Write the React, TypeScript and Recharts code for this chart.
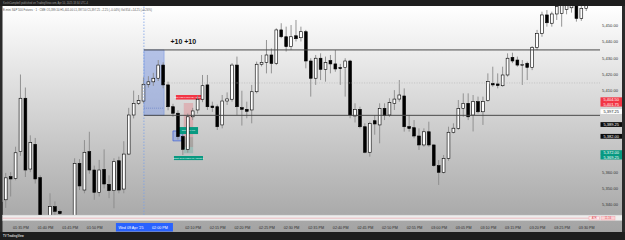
import React from 'react';
import {
  ComposedChart,
  Bar,
  XAxis,
  YAxis,
  ReferenceLine,
  ReferenceArea,
  ReferenceDot,
} from 'recharts';

// 1-minute candles, first one at 01:31 PM (minutes after midnight)
const firstMinute = 811;

const opens = [
  5326, 5343, 5357.2, 5356.2, 5372.6, 5405.4, 5361.9, 5377.1, 5356.6, null,
  5332, 5338.8, 5335.9, null, null, 5330, 5365.4, 5349, 5372.6, 5361.3,
  5347.6, 5361.7, 5352.5, 5348.6, 5367, 5349.6, 5371.1, 5395.1, 5402.3, 5403.7,
  5414, 5415.5, 5417.7, 5425.8, 5413.6, 5400.2, 5396.2, 5381.9, 5374, 5394,
  5398.2, 5404.8, 5413.6, 5400.6, 5400.2, 5389, 5403.7, 5404.8, 5425.8, 5399.6,
  5398.6, 5398.2, 5409.4, 5426.3, 5427.5, 5432, 5426.9, 5447.4, 5443.2, 5437.1,
  5443.8, 5442.6, 5446.3, 5428.3, 5417.7, 5430, 5423.2, 5428.5, 5426.5, 5424.2,
  5424.2, 5428.3, 5394.5, 5398.6, 5387.9, 5372.2, 5391.6, 5389, 5399.2, 5395.1,
  5402.3, 5404.9, 5406.8, 5388, 5387.3, 5382.2, 5376.7, 5384.8, 5376.7, 5364,
  5359.9, 5368.5, 5384.5, 5386.9, 5399.2, 5402.3, 5395.1, 5403.3, 5397.1, 5403.9,
  5414.6, 5414.2, 5413.1, 5419.7, 5430.5, 5428.9, 5425.8, 5426.9, 5424.4, 5436.7,
  5445.3, 5456.6, 5451.5, 5457.2, 5457.6, 5460, 5461, 5462.7, 5454.5, 5460.7,
];
const highs = [
  5343, 5359.5, 5360, 5375.6, 5420, 5412, 5382.6, 5381, 5358, null,
  5347, 5342, 5337, null, null, 5368.5, 5368, 5379.7, 5384.8, 5364,
  5367.5, 5374, 5358, 5368.5, 5369.5, 5379, 5399.5, 5410.1, 5407.4, 5418.2,
  5419, 5421, 5428.9, 5427.5, 5415.6, 5402, 5398, 5383, 5396, 5399.5,
  5407, 5419.7, 5419.7, 5403.3, 5401.5, 5407.4, 5409, 5427, 5431, 5410,
  5403.3, 5413.6, 5427.9, 5432, 5441.2, 5436, 5448.4, 5451.5, 5449.4, 5450.4,
  5453.5, 5449.4, 5447.4, 5430, 5432, 5433, 5431, 5432, 5435, 5426.5,
  5430, 5429, 5402.3, 5400.2, 5390, 5391, 5395.1, 5402.3, 5402.3, 5405.4,
  5410.4, 5416.6, 5411.5, 5395.1, 5392, 5386.9, 5386.9, 5391, 5377, 5367.4,
  5370.5, 5387.9, 5390, 5404.3, 5408.4, 5408.4, 5407.4, 5406.4, 5406.4, 5420.7,
  5424.8, 5420.7, 5424.8, 5433, 5433.4, 5431, 5428.9, 5427.9, 5437.5, 5447.4,
  5458.6, 5459.6, 5458.6, 5466, 5466, 5467, 5467, 5466, 5463, 5466,
];
const lows = [
  5324, 5338, 5345, 5355, 5370, 5357, 5360, 5353, 5328, null,
  5330, 5333, 5333, null, null, 5328, 5349, 5347, 5359, 5343,
  5345, 5350, 5344, 5337.8, 5347, 5347, 5370.5, 5393, 5401.3, 5402.3,
  5412, 5413, 5416, 5411.5, 5398, 5394, 5380, 5370.5, 5372, 5392,
  5396, 5403, 5398.2, 5397, 5385.9, 5386.9, 5401.3, 5403.3, 5395.1, 5388.6,
  5393.1, 5390, 5408.4, 5425, 5420.7, 5420.7, 5425.8, 5442.3, 5434.1, 5435.1,
  5440.3, 5440.3, 5423.8, 5406.4, 5413.6, 5416.6, 5415.6, 5420.7, 5421.7, 5413.6,
  5406.4, 5393.1, 5390.5, 5386.9, 5371.6, 5369.5, 5383, 5377.7, 5392, 5394,
  5398.2, 5403.3, 5384.9, 5384.9, 5380.8, 5373.6, 5375.6, 5375.6, 5363.3, 5352.1,
  5359.2, 5367, 5383.8, 5386, 5394, 5392, 5385, 5396.1, 5389, 5403.3,
  5412.5, 5411.5, 5412.5, 5418.7, 5427, 5424.8, 5413.6, 5416.6, 5422.7, 5435,
  5443.2, 5449.4, 5449.4, 5453.5, 5449.4, 5457, 5458, 5452.5, 5453, 5459,
];
const closes = [
  5341.5, 5356.5, 5355.8, 5371.9, 5405.4, 5361.3, 5378.1, 5355.8, 5330, null,
  5338.8, 5335.9, 5334.5, null, null, 5365.4, 5351.5, 5372.2, 5361.3, 5347.6,
  5361.3, 5352.7, 5348.6, 5366.4, 5349, 5371.1, 5395.1, 5402.3, 5403.9, 5414,
  5415.5, 5417.7, 5425.8, 5413.6, 5400.2, 5396.2, 5381.8, 5374, 5394, 5397.6,
  5404.8, 5413.1, 5400.2, 5399.6, 5387.9, 5403.7, 5405, 5425.8, 5400.2, 5398.6,
  5397.4, 5409.4, 5426.3, 5427.5, 5432, 5426.8, 5447.4, 5443.2, 5437.1, 5443.2,
  5442, 5446.3, 5428.3, 5417.7, 5430, 5423.2, 5427.3, 5426.5, 5423.4, 5423.8,
  5428.3, 5395.1, 5398.6, 5387.9, 5372.2, 5390, 5389.6, 5399.2, 5394.7, 5402.7,
  5404.9, 5407.4, 5387.9, 5386.8, 5382.2, 5376.7, 5384.8, 5376.7, 5364, 5359.9,
  5368.5, 5384.5, 5387, 5399.2, 5402.3, 5394, 5403.3, 5397.1, 5403.3, 5415.6,
  5413.6, 5413.2, 5419.7, 5430, 5428.3, 5425.8, 5426.2, 5424.4, 5436.7, 5445.3,
  5456.6, 5451.8, 5457.2, 5461.7, 5462.7, 5464, 5464, 5454.5, 5460.7, 5462.7,
];

const timeTicks = [
  815, 820, 825, 830, 840, 850, 855, 860, 865, 870, 875, 880, 885, 890, 895,
  900, 905, 910, 915, 920, 925, 930,
];
const priceTicks = [5340, 5350, 5360, 5410, 5420, 5430, 5440, 5450];
const timeDomain = [811.15, 932.7];
const priceDomain = [5333.65, 5462.1];

// drawings on the chart
const crosshairMinute = 840;
const levelUpper = 5435.1;
const levelLower = 5394.9;
const zoneEndMinute = 844.1;
const zoneMidPrice = 5399.3;
const dottedLevel = 5414.8;

const tagPrices = [5404.5, 5401.75, 5397.25, 5389.25, 5382, 5372, 5369.25];
const tagKinds = ['sell', 'sell', 'last', 'level', 'level', 'buy', 'buy'];
const tagStyles: Record<string, { bg: string; fg: string }> = {
  sell: { bg: '#f23645', fg: '#ffffff' },
  last: { bg: '#ffffff', fg: '#131722' },
  level: { bg: '#0c0c0c', fg: '#ffffff' },
  buy: { bg: '#089981', fg: '#ffffff' },
};

const candles = opens
  .map((open, i) => ({
    t: firstMinute + i,
    open,
    high: highs[i],
    low: lows[i],
    close: closes[i],
  }))
  .filter(d => d.open != null);

const pad = (n: number) => (n < 10 ? `0${n}` : `${n}`);
const formatTime = (m: number) => {
  const h = Math.floor(m / 60);
  return `${pad(h > 12 ? h - 12 : h)}:${pad(m % 60)} PM`;
};
const formatPrice = (p: number) =>
  p.toLocaleString('en-US', { minimumFractionDigits: 2, maximumFractionDigits: 2 });

const FONT = '"Liberation Sans", Arial, sans-serif';

const Candle = (props: any) => {
  const { x, y, width, height, payload } = props;
  if (!payload || payload.open == null) return null;
  const { open, close, high, low } = payload;
  const top = Math.min(y, y + height);
  const span = Math.abs(height);
  const perUnit = span / (high - low || 1);
  const cx = x + width / 2;
  const bodyTop = top + (high - Math.max(open, close)) * perUnit;
  const bodyH = Math.max(0.9, Math.abs(open - close) * perUnit);
  const up = close >= open;
  return (
    <g>
      <line x1={cx} x2={cx} y1={top} y2={top + span} stroke="#8a8a8a" strokeWidth={0.9} />
      <rect
        x={cx - 1.4}
        y={bodyTop}
        width={2.8}
        height={bodyH}
        fill={up ? '#ffffff' : '#000000'}
        stroke="#000000"
        strokeWidth={0.6}
      />
    </g>
  );
};

const TimeTick = (props: any) => {
  const { x, y, payload } = props;
  const v = payload.value;
  if (v === crosshairMinute) {
    return (
      <g>
        <rect x={x - 28} y={y + 8} width={57} height={8.5} fill="#2962ff" />
        <text x={x - 13} y={y + 13.6} fontSize={3.7} fill="#ffffff" textAnchor="middle">
          Wed 09 Apr '25
        </text>
        <text x={x + 16} y={y + 13.6} fontSize={3.7} fill="#ffffff" textAnchor="middle">
          {formatTime(v)}
        </text>
      </g>
    );
  }
  return (
    <text x={x} y={y + 13.6} fontSize={3.7} fill="#2a2a2a" textAnchor="middle">
      {formatTime(v)}
    </text>
  );
};

const PriceTag = (props: any) => {
  const vb = props.viewBox || {};
  const x = (vb.x ?? 0) + (vb.width ?? 0);
  const y = vb.y ?? 0;
  return (
    <g>
      <rect x={x + 0.5} y={y - 2.4} width={21.5} height={4.8} fill={props.bg} />
      <text x={x + 11.2} y={y + 1.5} fontSize={4} fill={props.fg} textAnchor="middle">
        {props.text}
      </text>
    </g>
  );
};

const BoxText = (props: any) => {
  const vb = props.viewBox || {};
  const cx = (vb.x ?? 0) + (vb.width ?? 0) / 2;
  const cy = (vb.y ?? 0) + (vb.height ?? 0) / 2;
  return (
    <text
      x={cx}
      y={cy + (props.size ?? 2.4) * 0.35}
      fontSize={props.size ?? 2.4}
      fontWeight={props.bold ? 700 : 400}
      fill={props.color ?? '#ffffff'}
      textAnchor="middle"
    >
      {props.text}
    </text>
  );
};

export default function App() {
  return (
    <div
      style={{
        position: 'absolute',
        left: 0,
        top: 0,
        width: 625,
        height: 240,
        overflow: 'hidden',
        fontFamily: FONT,
        background: 'linear-gradient(to bottom, #ffffff 6px, #a3a3a3 232px)',
      }}
    >
      <ComposedChart
        width={625}
        height={240}
        data={candles}
        margin={{ top: 6, right: 0, bottom: 8, left: 2 }}
        style={{ fontFamily: FONT }}
      >
        <XAxis
          type="number"
          dataKey="t"
          domain={timeDomain}
          allowDataOverflow
          ticks={timeTicks}
          interval={0}
          height={17}
          axisLine={false}
          tickLine={false}
          tickSize={0}
          tickMargin={0}
          tick={<TimeTick />}
        />
        <YAxis
          type="number"
          orientation="right"
          domain={priceDomain}
          allowDataOverflow
          ticks={priceTicks}
          interval={0}
          width={25}
          axisLine={false}
          tickLine={false}
          tickSize={0}
          tickMargin={2}
          tickFormatter={formatPrice}
          tick={{ fontSize: 4.1, fill: '#333333' }}
        />
        <ReferenceArea
          x1={crosshairMinute}
          x2={zoneEndMinute}
          y1={levelLower}
          y2={levelUpper}
          fill="#6f8fe0"
          fillOpacity={0.45}
          stroke="#6f8fe0"
          strokeWidth={0.5}
        />
        <ReferenceLine
          segment={[
            { x: crosshairMinute, y: zoneMidPrice },
            { x: zoneEndMinute, y: zoneMidPrice },
          ]}
          stroke="#5d78c4"
          strokeDasharray="1 1"
          strokeWidth={0.6}
        />
        <ReferenceLine
          segment={[
            { x: zoneEndMinute, y: dottedLevel },
            { x: timeDomain[1], y: dottedLevel },
          ]}
          stroke="#b5b5b5"
          strokeDasharray="1 1.5"
          strokeWidth={0.7}
        />
        <ReferenceLine
          x={crosshairMinute}
          stroke="#7aa0e8"
          strokeDasharray="1.5 1.5"
          strokeWidth={0.8}
        />
        <ReferenceArea x1={848.1} x2={850} y1={5375.4} y2={5402.5} fill="#f23645" fillOpacity={0.22} />
        <ReferenceArea x1={848.1} x2={850} y1={5371.6} y2={5381.5} fill="#089981" fillOpacity={0.2} />
        <Bar
          dataKey={(d: any) => [d.low, d.high]}
          barSize={4}
          isAnimationActive={false}
          shape={(p: any) => <Candle {...p} />}
        />
        <ReferenceLine
          segment={[
            { x: crosshairMinute, y: levelUpper },
            { x: timeDomain[1], y: levelUpper },
          ]}
          stroke="#4a4a4a"
          strokeWidth={1}
        />
        <ReferenceLine
          segment={[
            { x: crosshairMinute, y: levelLower },
            { x: timeDomain[1], y: levelLower },
          ]}
          stroke="#4a4a4a"
          strokeWidth={1}
        />
        <ReferenceArea
          x1={845.9}
          x2={847.9}
          y1={5379.2}
          y2={5385.3}
          fill="#2962ff"
          fillOpacity={0.25}
          stroke="#3d5fd6"
          strokeWidth={0.7}
        />
        <ReferenceArea
          x1={846.5}
          x2={851.8}
          y1={5404.6}
          y2={5407.4}
          fill="#f23645"
          fillOpacity={1}
          label={<BoxText text="Stop: 7.25 (0.13%) 29, Amount: 1" size={2} />}
        />
        <ReferenceArea
          x1={847.1}
          x2={851}
          y1={5383.4}
          y2={5387.7}
          fill="#089981"
          fillOpacity={1}
          label={<BoxText text="Open P&L: 7.00" size={1.9} />}
        />
        <ReferenceArea
          x1={846.1}
          x2={852}
          y1={5367.4}
          y2={5369.9}
          fill="#089981"
          fillOpacity={1}
          label={<BoxText text="Target: 15.00 (0.28%) 60, Amount: 1" size={1.9} />}
        />
        <ReferenceDot
          x={848}
          y={5440.3}
          r={0}
          fill="none"
          stroke="none"
          label={<BoxText text="+10 +10" size={7} bold color="#111111" />}
        />
        {tagPrices.map((p, i) => (
          <ReferenceLine
            key={p}
            y={p}
            stroke="none"
            strokeOpacity={0}
            label={
              <PriceTag
                text={formatPrice(p)}
                bg={tagStyles[tagKinds[i]].bg}
                fg={tagStyles[tagKinds[i]].fg}
              />
            }
          />
        ))}
      </ComposedChart>

      <svg
        width={625}
        height={240}
        style={{ position: 'absolute', left: 0, top: 0, pointerEvents: 'none', fontFamily: FONT }}
      >
        <rect x={0} y={0} width={625} height={6} fill="#1e1e1e" />
        <text x={3} y={4} fontSize={2.6} fill="#9c9c9c">
          KoshiCampbell published on TradingView.com, Apr 10, 2025 18:34 UTC-4
        </text>
        <text x={3} y={10.6} fontSize={2.8} fill="#5a5a5a">
          E-mini S&amp;P 500 Futures · 1 · CME   O5,399.50 H5,401.00 L5,397.50 C5,397.25 −2.25 (−0.04%)
          Vol 854 +14.25 (+0.26%)
        </text>
        <rect x={0} y={6} width={2.5} height={226} fill="#2b2b2b" />
        <rect x={622} y={6} width={3} height={226} fill="#2b2b2b" />
        <rect x={2.5} y={215} width={619.5} height={5.5} fill="#eeeeee" />
        <line x1={2.5} x2={622} y1={215.2} y2={215.2} stroke="#c2c2c2" strokeWidth={0.5} />
        <line x1={2.5} x2={622} y1={220.5} y2={220.5} stroke="#d6d6d6" strokeWidth={0.5} />
        <line x1={2.5} x2={600} y1={218.2} y2={218.2} stroke="#e88a92" strokeWidth={0.5} />
        <rect x={589} y={216.4} width={10.5} height={3.6} fill="#fde8ea" stroke="#f29aa2" strokeWidth={0.4} />
        <text x={594.2} y={219.1} fontSize={2.6} fill="#e0434f" textAnchor="middle">
          ATR
        </text>
        <rect x={601} y={216.4} width={14} height={3.6} fill="#fbd3d6" stroke="#f29aa2" strokeWidth={0.4} />
        <text x={608} y={219.1} fontSize={2.6} fill="#e0434f" textAnchor="middle">
          11.16
        </text>
        <rect x={0} y={232} width={625} height={8} fill="#1e1e1e" />
        <text x={3} y={237.4} fontSize={2.8} fontWeight={700} fill="#d8d8d8">
          TV TradingView
        </text>
      </svg>
    </div>
  );
}
